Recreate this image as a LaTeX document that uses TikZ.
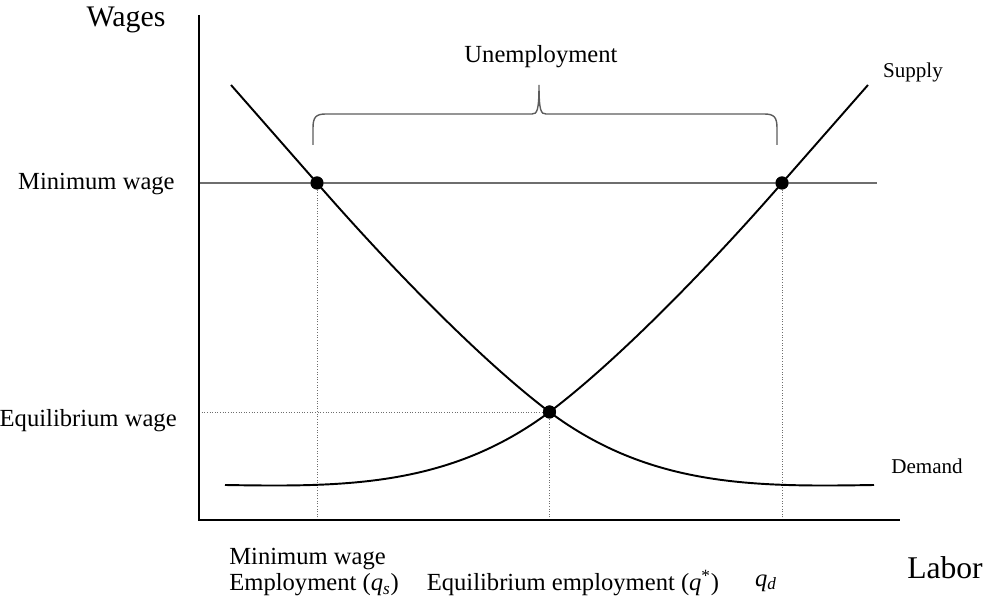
\documentclass[tikz,border=0pt]{standalone}
\usepackage{fontspec}
\setmainfont{Liberation Serif}
\usetikzlibrary{positioning}
\definecolor{cgrid}{HTML}{6e6e6e}
\definecolor{cbrace}{HTML}{5c5c5c}
\definecolor{cline}{HTML}{000000}

\begin{document}
\begin{tikzpicture}[
  x=0.02cm, y=0.02cm,
  font=\fontsize{14}{17}\selectfont,
  axis/.style={line width=1.4pt, draw=cline, line join=miter},
  curve/.style={line width=1.1pt, draw=cline},
  guide/.style={densely dotted, line width=0.5pt, draw=cgrid},
  wageline/.style={line width=0.7pt, draw=cgrid},
  dot/.style={circle, fill=black, inner sep=0pt, minimum size=2.6mm},
  lbl/.style={inner sep=0pt},
  small/.style={lbl, font=\fontsize{12}{14}\selectfont},
  big/.style={lbl, font=\fontsize{18}{21}\selectfont},
  ]
\useasboundingbox (-199,-81) rectangle (785,520);

\coordinate (O) at (0,0);
\coordinate (ytop) at (0,505);
\coordinate (xend) at (701,0);
\coordinate (mwend) at (678,337);
\coordinate (mwstart) at (0,337);
\coordinate (ewstart) at (0,108);

\coordinate (s0) at (26,35);
\coordinate (s1) at (669,435);
\coordinate (d0) at (32,435);
\coordinate (d1) at (675,35);

\node[dot] (qs) at (118,337) {};
\node[dot] (qd) at (583,337) {};
\node[dot] (eq) at (350.5,108) {};

\coordinate (qsbase) at (118,0);
\coordinate (eqbase) at (350.5,0);
\coordinate (qdbase) at (583,0);

\draw[wageline] (mwstart) -- (mwend);
\draw[guide] (ewstart) -- (eq.center);
\draw[guide] (qsbase) -- (qs.center);
\draw[guide] (eqbase) -- (eq.center);
\draw[guide] (qdbase) -- (qd.center);

\draw[curve] (s0) .. controls (146,33) and (250,33) .. (eq.center)
  .. controls (420,160.5) and (513,256.5) .. (qd.center)
  .. controls (612,370) and (640,402) .. (s1);
\draw[curve] (d0) .. controls (61,402) and (89,370) .. (qs.center)
  .. controls (188,256.5) and (281,160.5) .. (eq.center)
  .. controls (451,33) and (555,33) .. (d1);

\node[dot] at (qs) {};
\node[dot] at (qd) {};
\node[dot] at (eq) {};

\draw[axis] (ytop) -- (O) -- (xend);

\coordinate (brL) at (114,375);
\coordinate (brT) at (340,435);
\coordinate (brR) at (578,375);
\draw[cbrace, line width=0.8pt] (brL) -- (114,392) .. controls (114,403) and (117,406) .. (127,406)
  -- (333,406) .. controls (338,406) and (340,409) .. (brT)
  .. controls (340,409) and (342,406) .. (347,406) -- (565,406)
  .. controls (575,406) and (578,403) .. (578,392) -- (brR);

\node[lbl, font=\fontsize{17}{20}\selectfont] (wages) at (-73,500) {Wages};
\node[lbl] (unemp) at (342,463) {Unemployment};
\node[small] (supply) at (714,448) {Supply};
\node[small] (demand) at (728,54) {Demand};
\node[lbl, anchor=east] (mwlbl) at (-24,336) {Minimum wage};
\node[lbl, anchor=east] (ewlbl) at (-22,99) {Equilibrium wage};
\node[lbl, anchor=west, align=left, font=\fontsize{14}{14.5}\selectfont] (qslbl) at (30,-52)
  {Minimum wage\\Employment (\textit{q}\textsubscript{\textit{s}})};
\node[lbl] (eqlbl) at (374,-63) {Equilibrium employment (\textit{q}\textsuperscript{*})};
\node[lbl] (qdlbl) at (567,-63) {\textit{q}\textsubscript{\textit{d}}};
\node[big] (labor) at (746,-48) {Labor};
\end{tikzpicture}
\end{document}
